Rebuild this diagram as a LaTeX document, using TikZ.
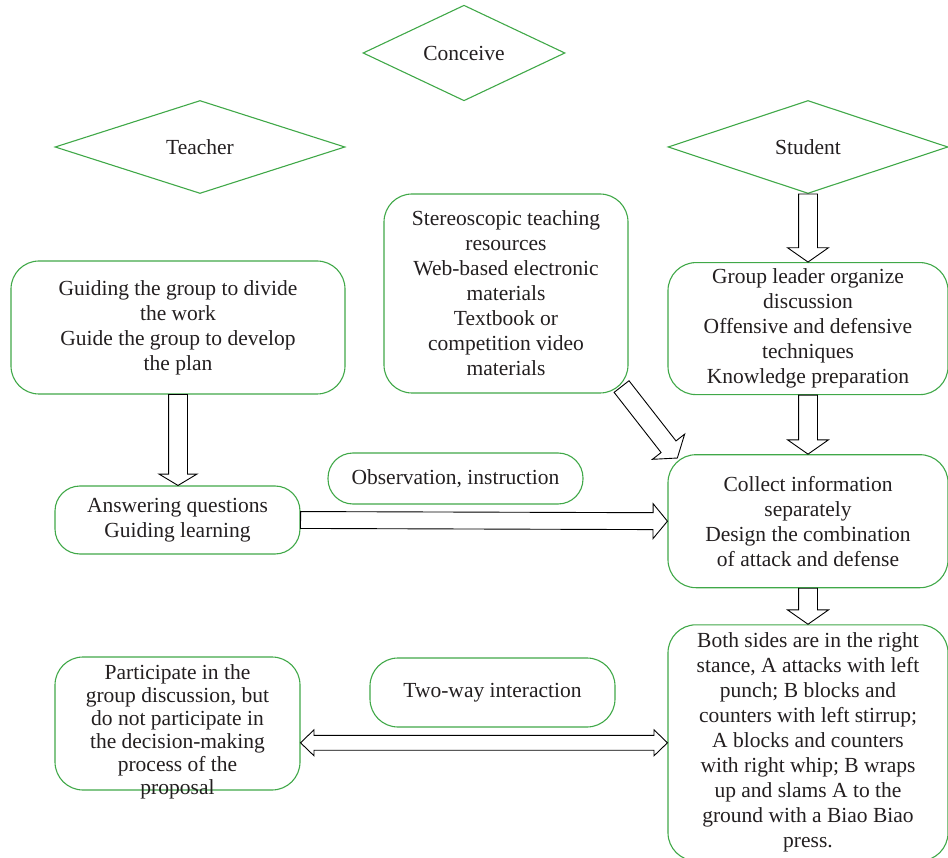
\documentclass[tikz,border=0pt]{standalone}
\usepackage{fontspec}
\setmainfont{Liberation Serif}
\usetikzlibrary{shapes.geometric,shapes.arrows,positioning,calc}
\definecolor{boxgreen}{RGB}{64,168,72}
\definecolor{inkgray}{RGB}{35,31,32}

% hollow block arrow between two named points
\newcommand\blockarrow[3][]{%
  \path let \p1=($(#3)-(#2)$), \n1={veclen(\x1,\y1)}, \n2={atan2(\y1,\x1)} in
    node[hollow, #1, anchor=tail, minimum height=\n1, rotate=\n2] at (#2) {};}
\newcommand\twowayarrow[2]{%
  \path let \p1=($(#2)-(#1)$), \n1={veclen(\x1,\y1)}, \n2={atan2(\y1,\x1)} in
    node[hollowboth, minimum height=\n1, rotate=\n2] at ($(#1)!0.5!(#2)$) {};}

\begin{document}
\begin{tikzpicture}[x=1pt, y=-1pt, font=\fontsize{21.5}{25}\selectfont, text=inkgray]
% STYLES
\tikzset{%
    box/.style={%
        rectangle, draw=boxgreen, line width=1.1pt, rounded corners=28pt,
        align=center, inner sep=2pt
    },
    choice/.style={%
        diamond, draw=boxgreen, line width=1.1pt, inner sep=0pt
    },
    hollow/.style={%
        single arrow, draw=black, fill=white, line width=0.9pt,
        inner xsep=0pt, inner ysep=9pt, outer sep=0pt,
        single arrow head extend=11pt, single arrow tip angle=110
    },
    hollowboth/.style={%
        double arrow, draw=black, fill=white, line width=0.9pt,
        inner xsep=0pt, inner ysep=7pt, outer sep=0pt,
        double arrow head extend=5.5pt, double arrow tip angle=88
    }
}
\useasboundingbox (0,0) rectangle (948,858);
% Draw the three roles
\node [choice, minimum width=202pt, minimum height=95pt] (conceive) at (464,53) {Conceive};
\node [choice, minimum width=290pt, minimum height=93pt] (teacher) at (200,147) {Teacher};
\node [choice, minimum width=280pt, minimum height=93pt] (student) at (808,147) {Student};
% Teacher side
\node [box, minimum width=334pt, minimum height=133pt] (guide) at (178,327.5)
    {Guiding the group to divide\\the work\\Guide the group to develop\\the plan};
\node [box, rounded corners=25pt, minimum width=245pt, minimum height=68pt] (answer) at (177.5,520)
    {Answering questions\\Guiding learning};
\node [box, minimum width=245pt, minimum height=133pt] (participate) at (177.5,723.5) {};
\node [align=center, font=\fontsize{21.5}{23}\selectfont] (participatetext) at (177.5,732)
    {Participate in the\\group discussion, but\\do not participate in\\the decision-making\\process of the\\proposal};
% Middle
\node [box, minimum width=244pt, minimum height=199pt] (resources) at (506,293.5)
    {Stereoscopic teaching\\resources\\Web-based electronic\\materials\\Textbook or\\competition video\\materials};
\node [box, rounded corners=25pt, minimum width=255pt, minimum height=51pt] (observe) at (455.5,478.5)
    {Observation, instruction};
\node [box, minimum width=245pt, minimum height=69pt] (twoway) at (492.5,692.5)
    {Two-way interaction};
% Student side
\node [box, minimum width=280pt, minimum height=132pt, below=68pt of student] (leader)
    {Group leader organize\\discussion\\Offensive and defensive\\techniques\\Knowledge preparation};
\node [box, minimum width=280pt, minimum height=133pt, below=59pt of leader] (collect)
    {Collect information\\separately\\Design the combination\\of attack and defense};
\node [box, minimum width=280pt, minimum height=236pt, below=36pt of collect] (stance)
    {Both sides are in the right\\stance, A attacks with left\\punch; B blocks and\\counters with left stirrup;\\A blocks and counters\\with right whip; B wraps\\up and slams A to the\\ground with a Biao Biao\\press.};
% Draw the links
\coordinate (guidetip) at (guide.south |- answer.north);
\coordinate (diagtail) at ($(resources.south east)+(-7,-7)$);
\coordinate (diagtip) at ($(collect.north west)+(10,4)$);
\coordinate (twowayleft) at (participate.east |- stance.west);
\blockarrow{student.south}{leader.north}
\blockarrow{leader.south}{collect.north}
\blockarrow{collect.south}{stance.north}
\blockarrow[single arrow head extend=9.5pt, single arrow tip angle=118]{guide.south}{guidetip}
\blockarrow{diagtail}{diagtip}
\blockarrow[inner ysep=8pt, single arrow head extend=9pt, single arrow tip angle=101]{answer.east}{collect.west}
\twowayarrow{twowayleft}{stance.west}
\end{tikzpicture}
\end{document}
